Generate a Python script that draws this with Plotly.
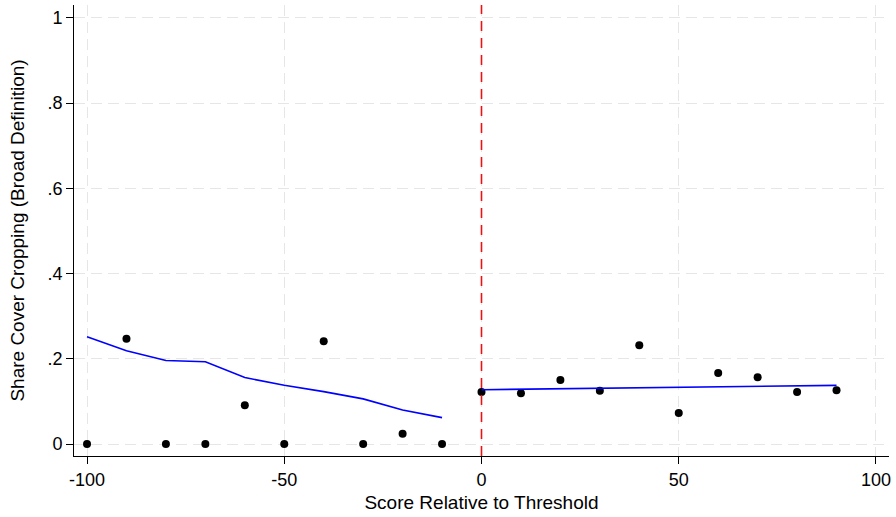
import plotly.graph_objects as go

# Binned scatter data
left_x = [-100, -90, -80, -70, -60, -50, -40, -30, -20, -10]
left_y = [0.0, 0.247, 0.0, 0.0, 0.091, 0.0, 0.241, 0.0, 0.024, 0.0]
right_x = [0, 10, 20, 30, 40, 50, 60, 70, 80, 90]
right_y = [0.122, 0.119, 0.150, 0.125, 0.232, 0.073, 0.167, 0.157, 0.122, 0.126]

# Fitted lines
left_fit_x = [-100, -90, -80, -70, -60, -50, -40, -30, -20, -10]
left_fit_y = [0.252, 0.219, 0.196, 0.193, 0.156, 0.138, 0.123, 0.106, 0.080, 0.062]
right_fit_x = [0, 90]
right_fit_y = [0.1275, 0.1376]

x_ticks = [-100, -50, 0, 50, 100]
x_tick_labels = ["-100", "-50", "0", "50", "100"]
y_ticks = [0, 0.2, 0.4, 0.6, 0.8, 1.0]
y_tick_labels = ["0", ".2", ".4", ".6", ".8", "1"]

FONT = "Liberation Sans, Arial, sans-serif"

fig = go.Figure()
fig.add_trace(go.Scatter(x=left_x, y=left_y, mode="markers",
                         marker=dict(color="black", size=8), showlegend=False))
fig.add_trace(go.Scatter(x=right_x, y=right_y, mode="markers",
                         marker=dict(color="black", size=8), showlegend=False))
fig.add_trace(go.Scatter(x=left_fit_x, y=left_fit_y, mode="lines",
                         line=dict(color="#0000ff", width=1.6), showlegend=False))
fig.add_trace(go.Scatter(x=right_fit_x, y=right_fit_y, mode="lines",
                         line=dict(color="#0000ff", width=1.6), showlegend=False))

fig.add_shape(type="line", x0=0, x1=0, xref="x", y0=0, y1=1, yref="paper",
              line=dict(color="#ee1111", width=1.6, dash="10px,7px"))

grid = dict(showgrid=True, gridcolor="#e6e6e6", gridwidth=1, griddash="11px,6px")

fig.update_xaxes(range=[-103.3, 103.3], tickvals=x_ticks, ticktext=x_tick_labels,
                 ticks="outside", ticklen=7, tickcolor="black", tickwidth=1,
                 showline=True, linecolor="black", linewidth=1, zeroline=False,
                 tickfont=dict(family=FONT, size=18, color="black"),
                 title=dict(text="Score Relative to Threshold",
                            font=dict(family=FONT, size=19, color="black"), standoff=7),
                 **grid)
fig.update_yaxes(range=[-0.028, 1.03], tickvals=y_ticks, ticktext=y_tick_labels,
                 ticks="outside", ticklen=7, tickcolor="black", tickwidth=1,
                 showline=True, linecolor="black", linewidth=1, zeroline=False,
                 tickfont=dict(family=FONT, size=18, color="black"),
                 title=dict(text="Share Cover Cropping (Broad Definition)",
                            font=dict(family=FONT, size=19, color="black"), standoff=17),
                 **grid)

fig.update_layout(width=896, height=517, margin=dict(l=74, r=7, t=5, b=61),
                  plot_bgcolor="white", paper_bgcolor="white",
                  font=dict(family=FONT))

fig.write_html("out.html")
